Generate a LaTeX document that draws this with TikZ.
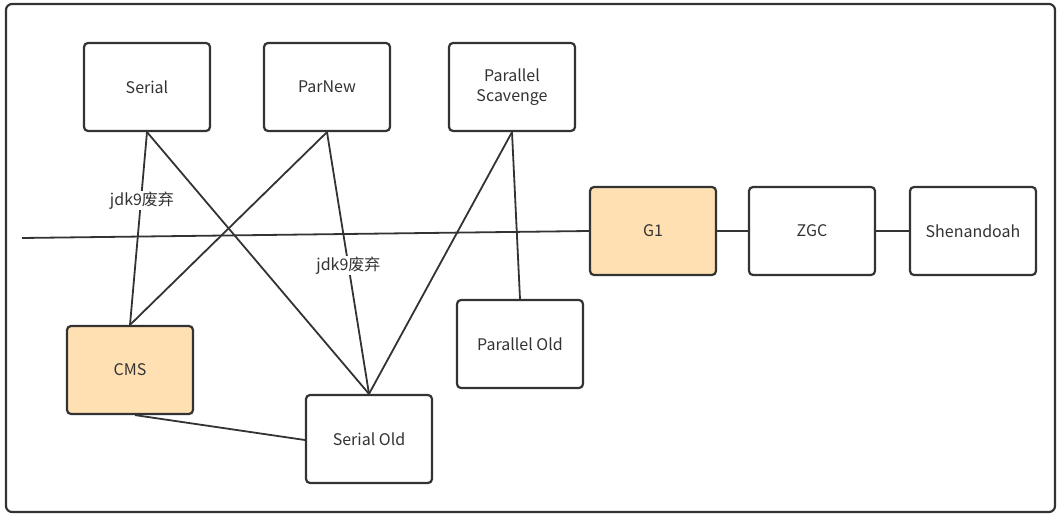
\documentclass[tikz,border=0pt]{standalone}
\usepackage{fontspec}
\setmainfont{Noto Sans CJK SC}
\definecolor{ln}{HTML}{333333}
\definecolor{txt}{HTML}{333333}
\definecolor{org}{HTML}{FFE0B2}
\begin{document}
\begin{tikzpicture}[x=1pt,y=-1pt,
  gc/.style={draw=ln,line width=2.2pt,rounded corners=4pt,minimum width=126pt,minimum height=88pt,inner sep=0pt,align=center,font=\fontsize{16}{20}\selectfont,text=txt,fill=white},
  hot/.style={gc,fill=org},
  conn/.style={draw=ln,line width=1.8pt},
  lbl/.style={fill=white,inner sep=1pt,font=\fontsize{16}{20}\selectfont,text=txt}]
\useasboundingbox (0,0) rectangle (1061,521);
\draw[ln,line width=2.2pt,rounded corners=6pt] (6,4) rectangle (1055,512);
\node[gc] (serial) at (147,87) {Serial};
\node[gc] (parnew) at (327,87) {ParNew};
\node[gc] (ps) at (512,87) {Parallel\\Scavenge};
\node[hot] (g1) at (653,231) {G1};
\node[gc] (zgc) at (812,231) {ZGC};
\node[gc] (shen) at (973,231) {Shenandoah};
\node[gc] (po) at (520,344) {Parallel Old};
\node[hot] (cms) at (130,370) {CMS};
\node[gc] (so) at (369,439) {Serial Old};
\coordinate (lstart) at (22,238);
\draw[conn] (lstart) -- (g1.west);
\draw[conn] (g1) -- (zgc);
\draw[conn] (zgc) -- (shen);
\draw[conn] (serial.south) -- (so.north);
\draw[conn] (parnew.south) -- (cms.north);
\draw[conn] (ps.south) -- (so.north);
\draw[conn] (ps.south) -- (po.north);
\draw[conn] ([xshift=5pt]cms.south) -- ([yshift=-1pt]so.west);
\draw[conn] (serial.south) -- node[lbl,pos=0.355,xshift=1pt] {jdk9废弃} (cms.north);
\draw[conn] (parnew.south) -- node[lbl,pos=0.51] {jdk9废弃} (so.north);
\end{tikzpicture}
\end{document}
